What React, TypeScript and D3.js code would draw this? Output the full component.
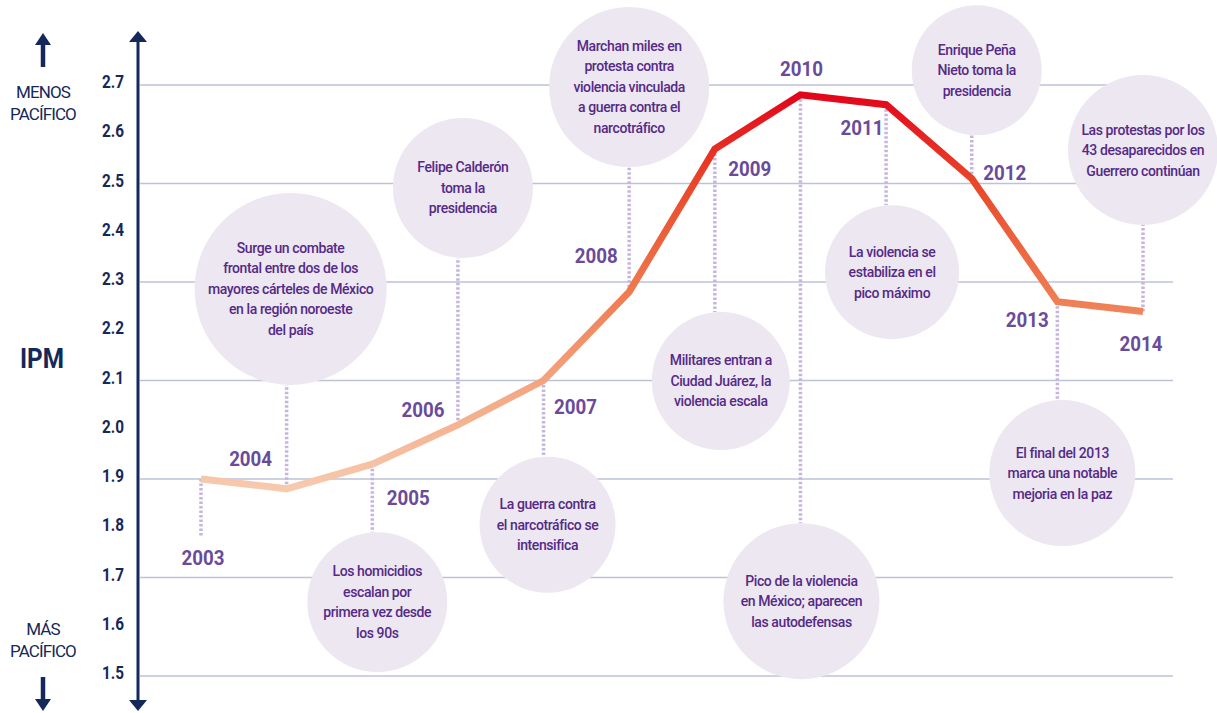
import React from "react";
import * as d3 from "d3";

const years = [2003, 2004, 2005, 2006, 2007, 2008, 2009, 2010, 2011, 2012, 2013, 2014];
const ipm = [1.9, 1.88, 1.93, 2.01, 2.1, 2.28, 2.57, 2.68, 2.66, 2.51, 2.26, 2.24];
const yTicks = [2.7, 2.6, 2.5, 2.4, 2.3, 2.2, 2.1, 2.0, 1.9, 1.8, 1.7, 1.6, 1.5];
const gridValues = [2.7, 2.5, 2.3, 2.1, 1.9, 1.7, 1.5];

const annotationYears = [2004, 2005, 2006, 2007, 2008, 2009, 2010, 2011, 2012, 2013, 2014];
const annotationTexts = [
  ["Surge un combate", "frontal entre dos de los", "mayores cárteles de México", "en la región noroeste", "del país"],
  ["Los homicidios", "escalan por", "primera vez desde", "los 90s"],
  ["Felipe Calderón", "toma la", "presidencia"],
  ["La guerra contra", "el narcotráfico se", "intensifica"],
  ["Marchan miles en", "protesta contra", "violencia vinculada", "a guerra contra el", "narcotráfico"],
  ["Militares entran a", "Ciudad Juárez, la", "violencia escala"],
  ["Pico de la violencia", "en México; aparecen", "las autodefensas"],
  ["La violencia se", "estabiliza en el", "pico máximo"],
  ["Enrique Peña", "Nieto toma la", "presidencia"],
  ["El final del 2013", "marca una notable", "mejoria en la paz"],
  ["Las protestas por los", "43 desaparecidos en", "Guerrero continúan"],
];

// layout (bubble centre in IPM units, x offset px, radius px)
const bubbleLayout = [
  { cy: 2.286, dx: 4, r: 96 },
  { cy: 1.65, dx: 5, r: 70 },
  { cy: 2.491, dx: 5, r: 70 },
  { cy: 1.807, dx: 4, r: 68 },
  { cy: 2.696, dx: 0, r: 80 },
  { cy: 2.099, dx: 6, r: 69 },
  { cy: 1.652, dx: 1, r: 78 },
  { cy: 2.32, dx: 6, r: 67 },
  { cy: 2.73, dx: 5, r: 65 },
  { cy: 1.912, dx: 5, r: 73 },
  { cy: 2.568, dx: 0, r: 75 },
];
const yearLabelOffsets = [
  [2, 86], [-36, -23], [36, 41], [-35, -8], [32, 33], [-33, -29],
  [35, 27], [1, -19], [-24, 30], [33, 1], [-30, 25], [-2, 39],
];
const firstDropTo = 1.785;

const W = 1217;
const H = 713;
const NAVY = "#14285a";
const PURPLE = "#562a88";
const YEAR_PURPLE = "#6a4b9b";
const BUBBLE = "#ece7f0";
const DOT = "#c6b5dd";
const GRID = "#bcc3d9";
const FONT = "Roboto, 'Open Sans', sans-serif";

export default function App() {
  const x = d3.scaleLinear().domain([2003, 2014]).range([201, 1143]);
  const y = d3.scaleLinear().domain([1.5, 2.7]).range([676, 85]);
  const pts = years.map((yr, i) => [x(yr), y(ipm[i])] as [number, number]);
  const line = d3.line<[number, number]>().x((d) => d[0]).y((d) => d[1]);

  const stops = [
    { v: 1.86, c: "#f7cdb2" },
    { v: 2.1, c: "#f3a47f" },
    { v: 2.28, c: "#ef7a4f" },
    { v: 2.5, c: "#e9472a" },
    { v: 2.68, c: "#e2061a" },
  ];
  const gy1 = y(1.86);
  const gy2 = y(2.68);

  const axisX = 138;

  return (
    <svg width={W} height={H} style={{ position: "absolute", left: 0, top: 0, background: "#fff" }}>
      <defs>
        <linearGradient id="lineGrad" gradientUnits="userSpaceOnUse" x1={0} x2={0} y1={gy1} y2={gy2}>
          {stops.map((s, i) => (
            <stop key={i} offset={(y(s.v) - gy1) / (gy2 - gy1)} stopColor={s.c} />
          ))}
        </linearGradient>
      </defs>
      <rect width={W} height={H} fill="#fff" />

      {/* grid */}
      {gridValues.map((v) => (
        <line key={v} x1={axisX + 2} x2={1173} y1={y(v)} y2={y(v)} stroke={GRID} strokeWidth={1.5} />
      ))}

      {/* dotted connectors */}
      <line x1={pts[0][0]} x2={pts[0][0]} y1={pts[0][1]} y2={y(firstDropTo)} stroke={DOT} strokeWidth={3.5} strokeDasharray="2.5 2" />
      {annotationYears.map((yr, i) => {
        const idx = years.indexOf(yr);
        const [px, py] = pts[idx];
        const b = bubbleLayout[i];
        const cyp = y(b.cy);
        const end = cyp > py ? cyp - b.r : cyp + b.r;
        return (
          <line key={yr} x1={px} x2={px} y1={py} y2={end} stroke={DOT} strokeWidth={3.5} strokeDasharray="2.5 2" />
        );
      })}

      {/* bubbles */}
      {annotationYears.map((yr, i) => {
        const b = bubbleLayout[i];
        const cx = x(yr) + b.dx;
        const cyp = y(b.cy);
        const lines = annotationTexts[i];
        const lh = 20.5;
        return (
          <g key={yr}>
            <circle cx={cx} cy={cyp} r={b.r} fill={BUBBLE} />
            <text
              x={cx}
              textAnchor="middle"
              fontFamily={FONT}
              fontSize={14}
              fontWeight={500}
              letterSpacing={-0.4}
              fill={PURPLE}
            >
              {lines.map((t, j) => (
                <tspan key={j} x={cx} y={cyp + (j - (lines.length - 1) / 2) * lh + 5}>
                  {t}
                </tspan>
              ))}
            </text>
          </g>
        );
      })}

      {/* IPM line */}
      <path d={line(pts) || ""} fill="none" stroke="url(#lineGrad)" strokeWidth={7} strokeLinejoin="miter" strokeLinecap="butt" />

      {/* year labels */}
      {years.map((yr, i) => (
        <text
          key={yr}
          x={pts[i][0] + yearLabelOffsets[i][0]}
          y={pts[i][1] + yearLabelOffsets[i][1]}
          textAnchor="middle"
          fontFamily={FONT}
          fontWeight={700}
          fontSize={21}
          textLength={43}
          lengthAdjust="spacingAndGlyphs"
          fill={YEAR_PURPLE}
        >
          {yr}
        </text>
      ))}

      {/* y axis */}
      <line x1={axisX} x2={axisX} y1={40} y2={702} stroke={NAVY} strokeWidth={3} />
      <path d={`M${axisX - 9},42 L${axisX},31 L${axisX + 9},42 Z`} fill={NAVY} />
      <path d={`M${axisX - 9},700 L${axisX},711 L${axisX + 9},700 Z`} fill={NAVY} />
      {yTicks.map((v) => (
        <text
          key={v}
          x={124}
          y={y(v) + 3}
          textAnchor="end"
          fontFamily={FONT}
          fontWeight={700}
          fontSize={18}
          textLength={22}
          lengthAdjust="spacingAndGlyphs"
          fill={NAVY}
        >
          {v.toFixed(1)}
        </text>
      ))}

      {/* side labels */}
      <line x1={43} x2={43} y1={42} y2={67} stroke={NAVY} strokeWidth={4.5} />
      <path d="M35,45 L43,33 L51,45 Z" fill={NAVY} />
      <text x={43} y={98} textAnchor="middle" fontFamily={FONT} fontSize={17} letterSpacing={-0.9} fill={NAVY}>MENOS</text>
      <text x={43} y={120} textAnchor="middle" fontFamily={FONT} fontSize={17} letterSpacing={-0.9} fill={NAVY}>PACÍFICO</text>

      <text x={42} y={368} textAnchor="middle" fontFamily={FONT} fontWeight={700} fontSize={28} textLength={44} lengthAdjust="spacingAndGlyphs" fill={NAVY}>IPM</text>

      <text x={43} y={635} textAnchor="middle" fontFamily={FONT} fontSize={17} letterSpacing={-0.9} fill={NAVY}>MÁS</text>
      <text x={43} y={657} textAnchor="middle" fontFamily={FONT} fontSize={17} letterSpacing={-0.9} fill={NAVY}>PACÍFICO</text>
      <line x1={43} x2={43} y1={677} y2={702} stroke={NAVY} strokeWidth={4.5} />
      <path d="M35,699 L43,711 L51,699 Z" fill={NAVY} />
    </svg>
  );
}
